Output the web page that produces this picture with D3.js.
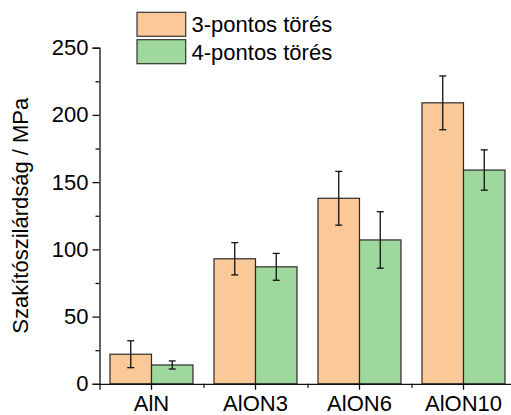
<!DOCTYPE html>
<html>
<head>
<meta charset="utf-8">
<script src="https://cdn.jsdelivr.net/npm/d3@7"></script>
<style>
  html, body { margin: 0; padding: 0; background: #fff; overflow: hidden; }
  svg { display: block; font-family: "Liberation Sans", Arial, sans-serif; }
</style>
</head>
<body>
<svg id="chart" width="511" height="415"></svg>
<script>
// data
const categories = ["AlN", "AlON3", "AlON6", "AlON10"];
const seriesNames = ["3-pontos törés", "4-pontos törés"];
const threePoint = [22, 93, 138, 209];
const threePointErr = [10, 12, 20, 20];
const fourPoint = [14, 87, 107, 159];
const fourPointErr = [3, 10, 21, 15];
const yTicks = [0, 50, 100, 150, 200, 250];
const yMinorTicks = [25, 75, 125, 175, 225];

const colors = ["#fbc898", "#9fd89c"];
const values = [threePoint, fourPoint];
const errors = [threePointErr, fourPointErr];

const svg = d3.select("#chart");
const left = 99.5;
const fontSize = 22;

const x = d3.scaleBand()
  .domain(categories)
  .range([left, left + 416]);

const xs = d3.scaleBand()
  .domain(seriesNames)
  .range([0, x.bandwidth()])
  .paddingOuter(0.253);

const y = d3.scaleLinear()
  .domain([0, 250])
  .range([383.8, 47.7]);

// bars
seriesNames.forEach((name, s) => {
  svg.append("g")
    .selectAll("rect")
    .data(categories)
    .enter().append("rect")
      .attr("x", (c) => x(c) + xs(name))
      .attr("y", (c, i) => y(values[s][i]))
      .attr("width", xs.bandwidth())
      .attr("height", (c, i) => y(0) - y(values[s][i]))
      .attr("fill", colors[s])
      .attr("stroke", "#2a2a2a")
      .attr("stroke-width", 1.2);
});

// error bars
seriesNames.forEach((name, s) => {
  const g = svg.append("g").attr("stroke", "#111").attr("stroke-width", 1.3);
  categories.forEach((c, i) => {
    const cx = x(c) + xs(name) + xs.bandwidth() / 2;
    const hi = y(values[s][i] + errors[s][i]);
    const lo = y(values[s][i] - errors[s][i]);
    g.append("line").attr("x1", cx).attr("x2", cx).attr("y1", hi).attr("y2", lo);
    g.append("line").attr("x1", cx - 3.5).attr("x2", cx + 3.5).attr("y1", hi).attr("y2", hi);
    g.append("line").attr("x1", cx - 3.5).attr("x2", cx + 3.5).attr("y1", lo).attr("y2", lo);
  });
});

// y axis
const yAxis = svg.append("g")
  .attr("transform", "translate(" + left + ",0)")
  .call(d3.axisLeft(y).tickValues(yTicks).tickSizeOuter(0).tickSize(7).tickPadding(4));

svg.append("g")
  .attr("transform", "translate(" + left + ",0)")
  .call(d3.axisLeft(y).tickValues(yMinorTicks).tickSizeOuter(0).tickSize(4).tickFormat(""))
  .select(".domain").remove();

// x axis
const xAxis = svg.append("g")
  .attr("transform", "translate(0," + y(0) + ")")
  .call(d3.axisBottom(x).tickSizeOuter(0).tickSize(6).tickPadding(8));

svg.append("g")
  .attr("transform", "translate(0," + y(0) + ")")
  .call(d3.axisBottom(d3.scaleLinear().domain([0, 4]).range([left, left + 416]))
    .tickValues([1, 2, 3]).tickSize(4).tickFormat(""))
  .select(".domain").remove();

svg.selectAll(".domain, .tick line")
  .attr("stroke", "#111")
  .attr("stroke-width", 1.3);

svg.selectAll(".tick text")
  .attr("fill", "#000")
  .attr("font-size", fontSize)
  .attr("font-family", "Liberation Sans, Arial, sans-serif");

xAxis.selectAll(".tick text").attr("dy", "0.71em").attr("y", 12);

// y axis title
svg.append("text")
  .attr("transform", "translate(27.5," + (y(0) + y(250)) / 2 + ") rotate(-90)")
  .attr("text-anchor", "middle")
  .attr("font-size", fontSize)
  .text("Szakítószilárdság / MPa");

// legend
const legend = svg.append("g");
seriesNames.forEach((name, s) => {
  legend.append("rect")
    .attr("x", 137)
    .attr("y", 12.3 + s * 27.4)
    .attr("width", 48.7)
    .attr("height", 24)
    .attr("fill", colors[s])
    .attr("stroke", "#333")
    .attr("stroke-width", 1.2);
  legend.append("text")
    .attr("x", 191.5)
    .attr("y", 32.3 + s * 27.2)
    .attr("font-size", fontSize)
    .text(name);
});
</script>
</body>
</html>
